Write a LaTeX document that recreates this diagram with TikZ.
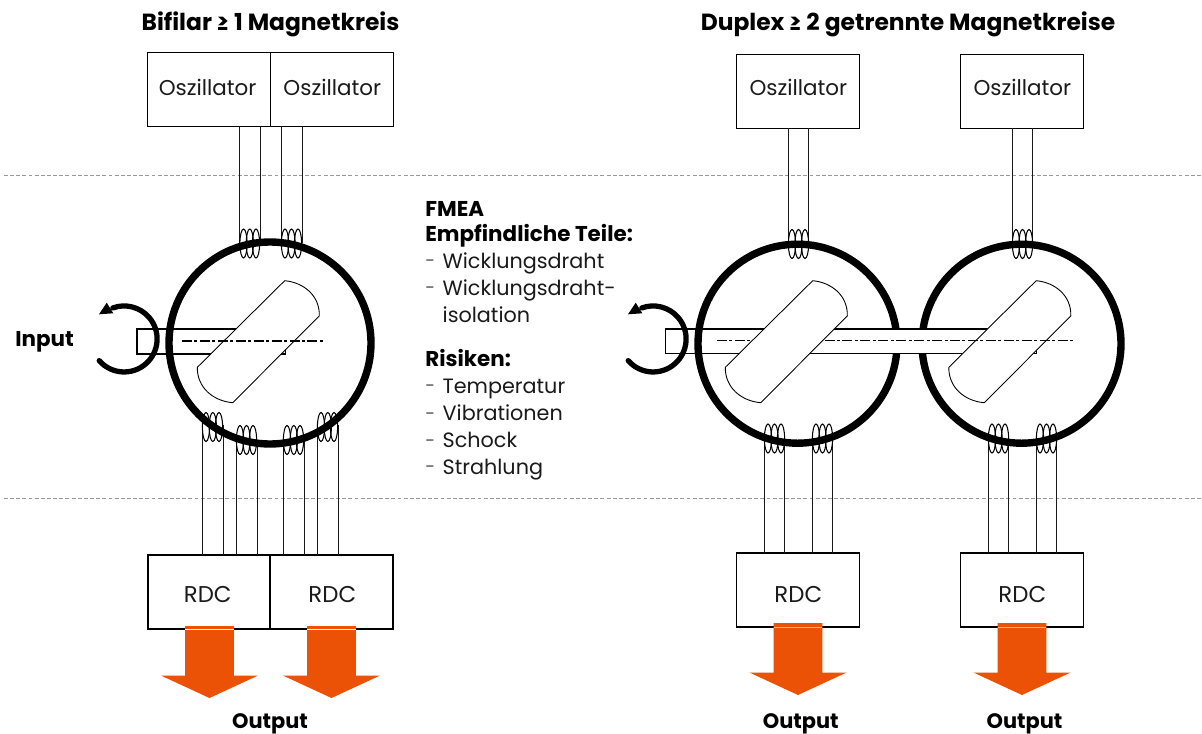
\documentclass[tikz,border=0pt]{standalone}
\usepackage{fontspec}
\setmainfont{Poppins}
\usetikzlibrary{calc}
\definecolor{orangeA}{HTML}{EB5205}
\definecolor{textK}{HTML}{1A1A1A}
\def\pxu{0.02cm}
\newcommand{\regf}{\fontsize{11.8pt}{13pt}\selectfont\color{textK}}
\newcommand{\oscf}{\fontsize{12.2pt}{13pt}\selectfont\color{textK}}
\newcommand{\rdcf}{\fontsize{13pt}{13pt}\selectfont\color{textK}}
\newcommand{\boldf}{\fontsize{12.2pt}{13pt}\selectfont\bfseries\color{black}}
\newcommand{\outf}{\fontsize{11.9pt}{13pt}\selectfont\bfseries\color{black}}
\newcommand{\titlef}{\fontsize{13.3pt}{14pt}\selectfont\bfseries\color{black}}
\newcommand{\dashf}{\fontsize{7.7pt}{9pt}\selectfont\color{textK}}
\tikzset{
  box/.style={draw=black,line width=0.65pt,fill=white,inner sep=0pt,outer sep=0pt},
  wire/.style={draw=black!90,line width=0.7pt},
  coil/.style={draw=black,line width=0.6pt},
  ring/.style={draw=black,line width=4.2pt},
  shaft/.style={draw=black,line width=0.65pt,fill=white},
  rotor/.style={draw=black,line width=0.5pt,fill=white},
  centerline/.style={draw=black,line width=0.6pt,dash pattern=on 5.7pt off 1.4pt on 1.7pt off 1.4pt},
  zone/.style={draw=black!40,line width=0.55pt,dash pattern=on 2.2pt off 1.3pt},
  turn/.style={draw=black,line width=3pt},
  osc/.style={anchor=base,inner sep=0pt,font=\oscf},
  rdc/.style={anchor=base,inner sep=0pt,font=\rdcf},
  regl/.style={anchor=base west,inner sep=0pt,font=\regf},
  dashl/.style={anchor=base west,inner sep=0pt,font=\dashf,yshift=1.5pt},
  outl/.style={anchor=base,inner sep=0pt,font=\outf},
  ttl/.style={anchor=base,inner sep=0pt,font=\titlef},
  bldl/.style={anchor=base west,inner sep=0pt,font=\boldf},
  outarrow/.style={fill=orangeA,draw=none},
}
\newcommand{\coilgroup}[4]{% x1,x2,x3,y
  \foreach \cx in {#1,#2,#3} {\draw[coil] (\cx,#4) ellipse [x radius=3.6,y radius=14.5];}
}
\newcommand{\rotorshape}[1]{% dx
  \begin{scope}[xshift=#1*\pxu]
  \path[rotor] (284.7,280.7) .. controls (304,282.5) and (320,296) .. (319.3,316)
    -- (232.7,402.7) .. controls (213,401) and (197,387.4) .. (197.3,367.3) -- cycle;
  \end{scope}
}
\newcommand{\turnarrow}[1]{% dx
  \begin{scope}[xshift=#1*\pxu]
  \draw[turn,line cap=round] (99.2,360.6) arc[start angle=221,end angle=470,radius=33*\pxu];
  \fill (106.7,302.7) -- (99,314.3) -- (113.3,313.3) -- cycle;
  \end{scope}
}
\newcommand{\outarrowshape}[2]{% cx, top
  \path[outarrow] (#1-24.3,#2) -- (#1+24.3,#2) -- (#1+24.3,#2+49.5) -- (#1+48.6,#2+49.5)
     -- (#1,#2+72) -- (#1-48.6,#2+49.5) -- (#1-24.3,#2+49.5) -- cycle;
}
\begin{document}
\begin{tikzpicture}[x=\pxu,y=-\pxu]
\useasboundingbox (0,0) rectangle (1202,733);
\fill[white] (0,0) rectangle (1202,733);

% zone separators
\coordinate (zl1) at (4,175); \coordinate (zr1) at (1202,175);
\coordinate (zl2) at (4,498.5); \coordinate (zr2) at (1202,498.5);
\draw[zone] (zl1) -- (zr1);
\draw[zone] (zl2) -- (zr2);

% titles
\node[ttl] (t1) at (270.5,31) {Bifilar ≥ 1 Magnetkreis};
\node[ttl] (t2) at (908,31) {Duplex ≥ 2 getrennte Magnetkreise};

% boxes
\node[box,minimum width=123*\pxu,minimum height=74*\pxu] (oa) at (209,89.5) {};
\node[box,minimum width=123*\pxu,minimum height=74*\pxu] (ob) at (332,89.5) {};
\node[box,minimum width=123*\pxu,minimum height=74*\pxu] (oc) at (798,91.5) {};
\node[box,minimum width=123*\pxu,minimum height=74*\pxu] (od) at (1022,91.5) {};
\node[box,minimum width=122*\pxu,minimum height=74*\pxu] (ra) at (209,592) {};
\node[box,minimum width=123*\pxu,minimum height=74*\pxu] (rb) at (331.5,592) {};
\node[box,minimum width=123*\pxu,minimum height=74*\pxu] (rc) at (798,590) {};
\node[box,minimum width=123*\pxu,minimum height=74*\pxu] (rd) at (1022,590) {};

% box labels
\node[osc] (la) at (207.6,95.7) {Oszillator};
\node[osc] (lb) at (332.3,95.7) {Oszillator};
\node[osc] (lc) at (798.3,95.7) {Oszillator};
\node[osc] (ld) at (1022.3,95.7) {Oszillator};
\node[rdc] (ma) at (207.7,602.3) {RDC};
\node[rdc] (mb) at (332.3,602.3) {RDC};
\node[rdc] (mc) at (798.3,602.3) {RDC};
\node[rdc] (md) at (1022.3,602.3) {RDC};

% wires from oscillators
\foreach \n/\x/\b in {a/239.5/oa,b/260.5/oa,c/281.5/ob,d/302.5/ob} {
  \coordinate (w\n) at (\x,243);
  \draw[wire] (\b.south -| w\n) -- (w\n);
}
\foreach \n/\x/\b in {e/788.5/oc,f/808.5/oc,g/1012.5/od,h/1032.5/od} {
  \coordinate (w\n) at (\x,244);
  \draw[wire] (\b.south -| w\n) -- (w\n);
}
% wires to RDCs
\foreach \n/\x/\y/\b in {i/202.5/425/ra,j/223.5/425/ra,k/236.5/442/ra,l/257.5/442/ra,m/283.5/442/rb,n/304.5/442/rb,o/317.5/425/rb,p/338.5/425/rb} {
  \coordinate (w\n) at (\x,\y);
  \draw[wire] (w\n) -- (\b.north -| w\n);
}
\foreach \n/\x/\b in {q/764.5/rc,r/784.5/rc,s/812.5/rc,t/832.5/rc,u/988.5/rd,v/1008.5/rd,w/1036.5/rd,y/1056.5/rd} {
  \coordinate (w\n) at (\x,438.5);
  \draw[wire] (w\n) -- (\b.north -| w\n);
}

% coils
\coilgroup{243.5}{249.8}{256}{243.5}
\coilgroup{285}{291.5}{298}{243.5}
\coilgroup{206}{212.8}{219}{427}
\coilgroup{240}{246.5}{253}{440}
\coilgroup{287}{293.8}{300}{440}
\coilgroup{321}{327.8}{334}{427}
\coilgroup{792}{798.5}{805}{244}
\coilgroup{1016}{1022.5}{1029}{244}
\coilgroup{768}{774.5}{781}{438.5}
\coilgroup{816}{822.5}{829}{438.5}
\coilgroup{992}{998.5}{1005}{438.5}
\coilgroup{1040}{1046.5}{1053}{438.5}

% left resolver
\path[shaft] (137,329) rectangle (285.6,354);
\draw[ring] (270,343) circle [radius=101];
\rotorshape{0}
\coordinate (cla) at (182,341); \coordinate (clb) at (325,341);
\draw[centerline] (cla) -- (clb);

% right resolvers
\path[shaft] (665.7,329) rectangle (1036.7,353.5);
\draw[ring] (797.5,343.7) circle [radius=99.5];
\draw[ring] (1021.5,343.7) circle [radius=99.5];
\fill[white] (860,329) rectangle (960,353.5);
\coordinate (sa) at (860,329); \coordinate (sb) at (960,329);
\coordinate (sc) at (860,353.5); \coordinate (sd) at (960,353.5);
\draw[draw=black,line width=0.65pt] (sa) -- (sb) (sc) -- (sd);
\rotorshape{751.5}
\coordinate (cld) at (717,340.5); \coordinate (cle) at (1073.5,340.5);
\draw[centerline] (cld) -- (cle);
\rotorshape{528}

% rotation arrows
\turnarrow{0}
\turnarrow{529}

% output arrows
\outarrowshape{209.5}{626}
\outarrowshape{331.5}{626}
\outarrowshape{798}{623}
\outarrowshape{1022}{623}
\draw[white,line width=0.45pt] (185.2,629) -- (233.8,629) (307.2,629) -- (355.8,629);
\draw[draw=orangeA!55!yellow!70!white,line width=0.45pt] (773.7,627) -- (822.3,627) (997.7,627) -- (1046.3,627);

% labels
\node[bldl] (inp) at (15,346.7) {Input};
\node[outl] (o1) at (270,728) {Output};
\node[outl] (o2) at (800.7,728) {Output};
\node[outl] (o3) at (1024.5,728) {Output};

\node[bldl] (f1) at (425,216) {FMEA};
\node[bldl] (f2) at (425,241.7) {Empfindliche Teile:};
\node[dashl] (d1) at (425,268.3) {–};
\node[regl] (f3) at (442.3,268.3) {Wicklungsdraht};
\node[dashl] (d2) at (425,295.5) {–};
\node[regl] (f4) at (442.3,295.5) {Wicklungsdraht-};
\node[regl] (f5) at (442.3,322.3) {isolation};
\node[bldl] (f6) at (425,366.7) {Risiken:};
\node[dashl] (d3) at (425,393.3) {–};
\node[regl] (f7) at (442.3,393.3) {Temperatur};
\node[dashl] (d4) at (425,420.7) {–};
\node[regl] (f8) at (442.3,420.7) {Vibrationen};
\node[dashl] (d5) at (425,447.7) {–};
\node[regl] (f9) at (442.3,447.7) {Schock};
\node[dashl] (d6) at (425,474) {–};
\node[regl] (f10) at (442.3,474) {Strahlung};
\end{tikzpicture}
\end{document}
